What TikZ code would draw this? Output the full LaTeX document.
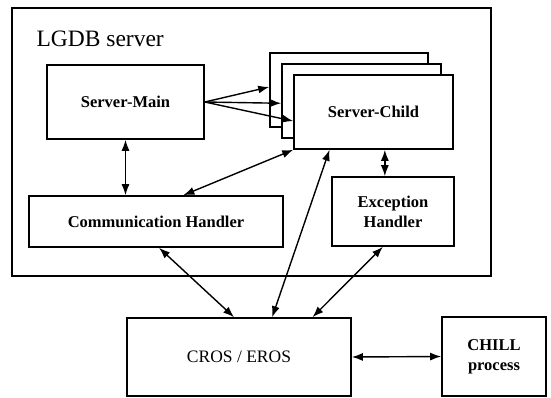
\documentclass[tikz,border=0pt]{standalone}
\usepackage{fontspec}
\setmainfont{Liberation Serif}
\usetikzlibrary{arrows.meta,calc}
\begin{document}
\begin{tikzpicture}[x=1pt,y=-1pt,
  box/.style={draw,line width=1.6pt,fill=white,inner sep=0pt,rectangle},
  lbl/.style={font=\fontsize{16.5}{20}\selectfont\bfseries,align=center},
  arr/.style={line width=1.4pt,-{Latex[length=11pt,width=8pt]}},
  darr/.style={line width=1.4pt,{Latex[length=11pt,width=8pt]}-{Latex[length=11pt,width=8pt]}}]
\useasboundingbox (0,0) rectangle (551,397);
% outer LGDB server box
\node[box,minimum width=479pt,minimum height=268pt] (outer) at (251.5,142) {};
\node[anchor=base west,font=\fontsize{23.5}{28}\selectfont] (title) at (33,46) {LGDB server};
% Server-Main
\node[box,minimum width=157pt,minimum height=74pt,lbl] (main) at (125.5,102) {Server-Main};
% Server-Child stack
\node[box,minimum width=158pt,minimum height=74pt] (back) at (349,90) {};
\node[box,minimum width=159pt,minimum height=74pt] (mid) at (361.5,101) {};
\node[box,minimum width=159pt,minimum height=74pt,lbl] (front) at (373.5,112) {Server-Child};
% Communication Handler
\node[box,minimum width=254pt,minimum height=51pt,lbl] (comm) at (156,221.5) {Communication Handler};
% Exception Handler
\node[box,minimum width=122pt,minimum height=69pt,lbl] (exc) at (393,211.5) {Exception\\Handler};
% CROS / EROS
\node[box,minimum width=224pt,minimum height=78pt,font=\fontsize{17.5}{20}\selectfont] (cros) at (239,357) {CROS / EROS};
% CHILL process
\node[box,minimum width=104pt,minimum height=79pt,lbl] (chill) at (494,356.5) {CHILL\\process};
% arrows from Server-Main to the children
\draw[arr] (main.east) -- ($(back.north west)!0.46!(back.south west)$);
\draw[arr] (main.east) -- ($(mid.north west)!0.53!(mid.south west)$);
\draw[arr] (main.east) -- ($(front.north west)!0.62!(front.south west)$);
% Server-Main <-> Communication Handler
\draw[darr] (main.south) -- (main.south |- comm.north);
% Communication Handler <-> Server-Child
\draw[darr] ($(comm.north west)!0.607!(comm.north east)$) -- (front.south west);
% Server-Child <-> Exception Handler
\coordinate (ex1) at ($(exc.north west)!0.434!(exc.north east)$);
\draw[darr] (ex1 |- front.south) -- (ex1);
% to CROS / EROS
\draw[darr] ($(comm.south west)!0.512!(comm.south east)$) -- ($(cros.north west)!0.478!(cros.north east)$);
\draw[darr] ($(front.south west)!0.226!(front.south east)$) -- ($(cros.north west)!0.647!(cros.north east)$);
\draw[darr] ($(exc.south west)!0.418!(exc.south east)$) -- ($(cros.north west)!0.826!(cros.north east)$);
% CROS <-> CHILL
\draw[darr] (cros.east) -- (chill.west);
\end{tikzpicture}
\end{document}
